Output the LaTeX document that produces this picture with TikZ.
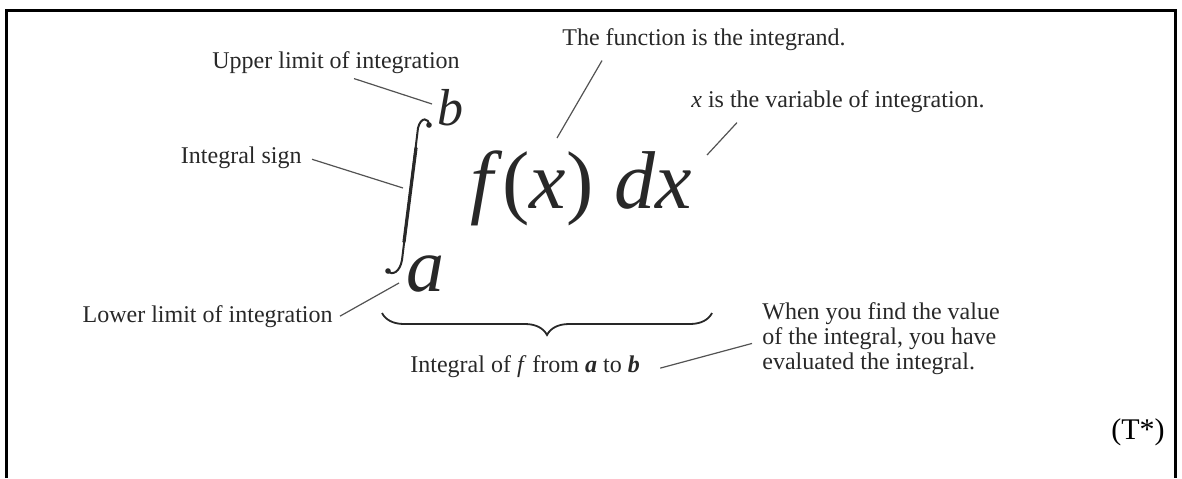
\documentclass[tikz,border=0pt]{standalone}
\usepackage{fontspec}
\setmainfont{Liberation Serif}
\usetikzlibrary{decorations.pathreplacing}
\definecolor{ink}{RGB}{40,40,40}
\tikzset{
  lbl/.style={font=\fontsize{12}{12.5}\selectfont, text=ink, inner sep=0pt},
  leader/.style={ink!80, line width=0.6pt},
  lim/.style={text=ink, inner sep=0pt, anchor=base west},
}
\begin{document}
\begin{tikzpicture}[x=0.5pt,y=-0.5pt]
    \useasboundingbox (0,0) rectangle (1182,478);
    \draw[line width=1.5pt] (6,478) -- (6,10) -- (1175,10) -- (1175,478);
    % the integral and its limits
    \draw[ink,line width=1pt,line cap=round] (429,125) .. controls (429,118) and (421,116) .. (418,128)
        -- (402,260) .. controls (400,272) and (392,276) .. (388,271);
    \draw[ink,line width=1.6pt,line cap=round] (416,148) -- (404,242);
    \fill[ink] (429,125) circle (1.4pt);
    \fill[ink] (388,271) circle (1.4pt);
    \node[lim,font=\fontsize{26}{26}\selectfont\itshape] (b) at (437,125) {b};
    \node[lim,font=\fontsize{38}{38}\selectfont\itshape] (a) at (406,291) {a};
    \node[lim,font=\fontsize{41}{41}\selectfont] (fx) at (470,208) {\textit{f\/}(\textit{x}) \textit{dx}};
    \coordinate (bEnd) at (432,104);
    \coordinate (signEnd) at (403,188);
    \coordinate (aEnd) at (399,283);
    \coordinate (fEnd) at (557,138);
    \coordinate (dxEnd) at (707,155);
    \draw[ink,line width=0.9pt,decorate,decoration={brace,mirror,amplitude=11pt}] (382,313) -- (712,313);
    % labels
    \node[lbl,anchor=base west] (upper) at (212,68) {Upper limit of integration};
    \node[lbl,anchor=base west] (func) at (562,45) {The function is the integrand.};
    \node[lbl,anchor=base west] (var) at (691,107) {\textit{x} is the variable of integration.};
    \node[lbl,anchor=base east] (sign) at (302,163) {Integral sign};
    \node[lbl,anchor=base east] (lower) at (333,322) {Lower limit of integration};
    \node[lbl,anchor=base west] (intof) at (410,372) {Integral of \textit{f} from \textbf{\textit{a}} to \textbf{\textit{b}}};
    \node[lbl,anchor=north west,align=left] (value) at (762,302) {When you find the value\\of the integral, you have\\evaluated the integral.};
    \node[lbl,font=\fontsize{15}{15}\selectfont,text=black,anchor=base east] (tstar) at (1165,439) {(T*)};
    % leaders
    \draw[leader] ([shift={(18,5)}]upper.south) -- (bEnd);
    \draw[leader] ([shift={(40,10)}]func.south west) -- (fEnd);
    \draw[leader] ([shift={(46,10)}]var.south west) -- (dxEnd);
    \draw[leader] ([shift={(10,2)}]sign.east) -- (signEnd);
    \draw[leader] ([shift={(7,0)}]lower.east) -- (aEnd);
    \draw[leader] ([shift={(20,2)}]intof.east) -- ([shift={(-10,5)}]value.west);
\end{tikzpicture}
\end{document}
